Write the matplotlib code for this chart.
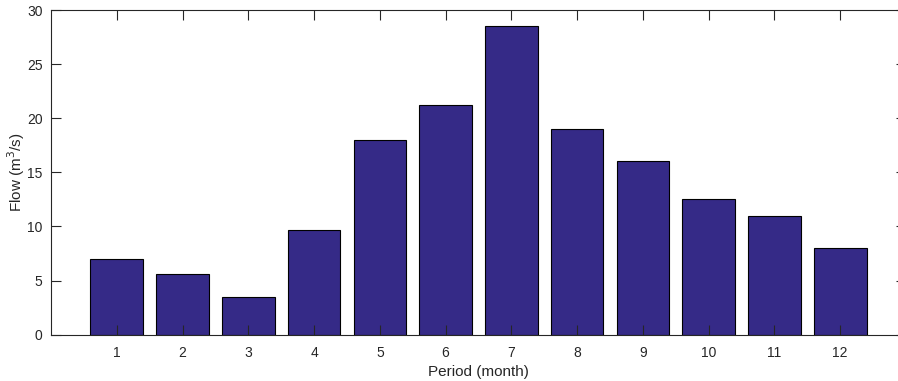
import numpy as np
import matplotlib.pyplot as plt

months = np.arange(1, 13)
flow = [7.0, 5.6, 3.5, 9.7, 18.0, 21.2, 28.5, 19.0, 16.0, 12.5, 11.0, 8.0]

plt.rcParams['font.family'] = ['Liberation Sans', 'DejaVu Sans']
axis_grey = '#262626'

fig = plt.figure(figsize=(8.98, 3.81), dpi=100)
ax = fig.add_axes([51 / 898, 1 - 334.6 / 381, (906 - 51) / 898, (334.6 - 10) / 381])

ax.bar(months, flow, width=0.8, color='#352a87', edgecolor='black', linewidth=0.8, zorder=1)

ax.set_xlim(0, 13)
ax.set_ylim(0, 30)
ax.set_xticks(months)
ax.set_yticks(np.arange(0, 31, 5))
ax.tick_params(direction='in', length=7, width=0.8, top=True, right=True,
               colors=axis_grey, labelsize=10)
ax.tick_params(axis='x', pad=8)
ax.tick_params(axis='y', pad=6)
for tick in ax.get_xticklabels() + ax.get_yticklabels():
    tick.set_color(axis_grey)
for side in ax.spines.values():
    side.set_color(axis_grey)
    side.set_linewidth(0.8)
    side.set_zorder(3)

ax.set_xlabel('Period (month)', fontsize=11, color=axis_grey, labelpad=4)
ax.set_ylabel('Flow (m$^3$/s)', fontsize=11, color=axis_grey)
ax.yaxis.set_label_coords(-0.028, 0.5)

fig.savefig('out.png', dpi=100)
